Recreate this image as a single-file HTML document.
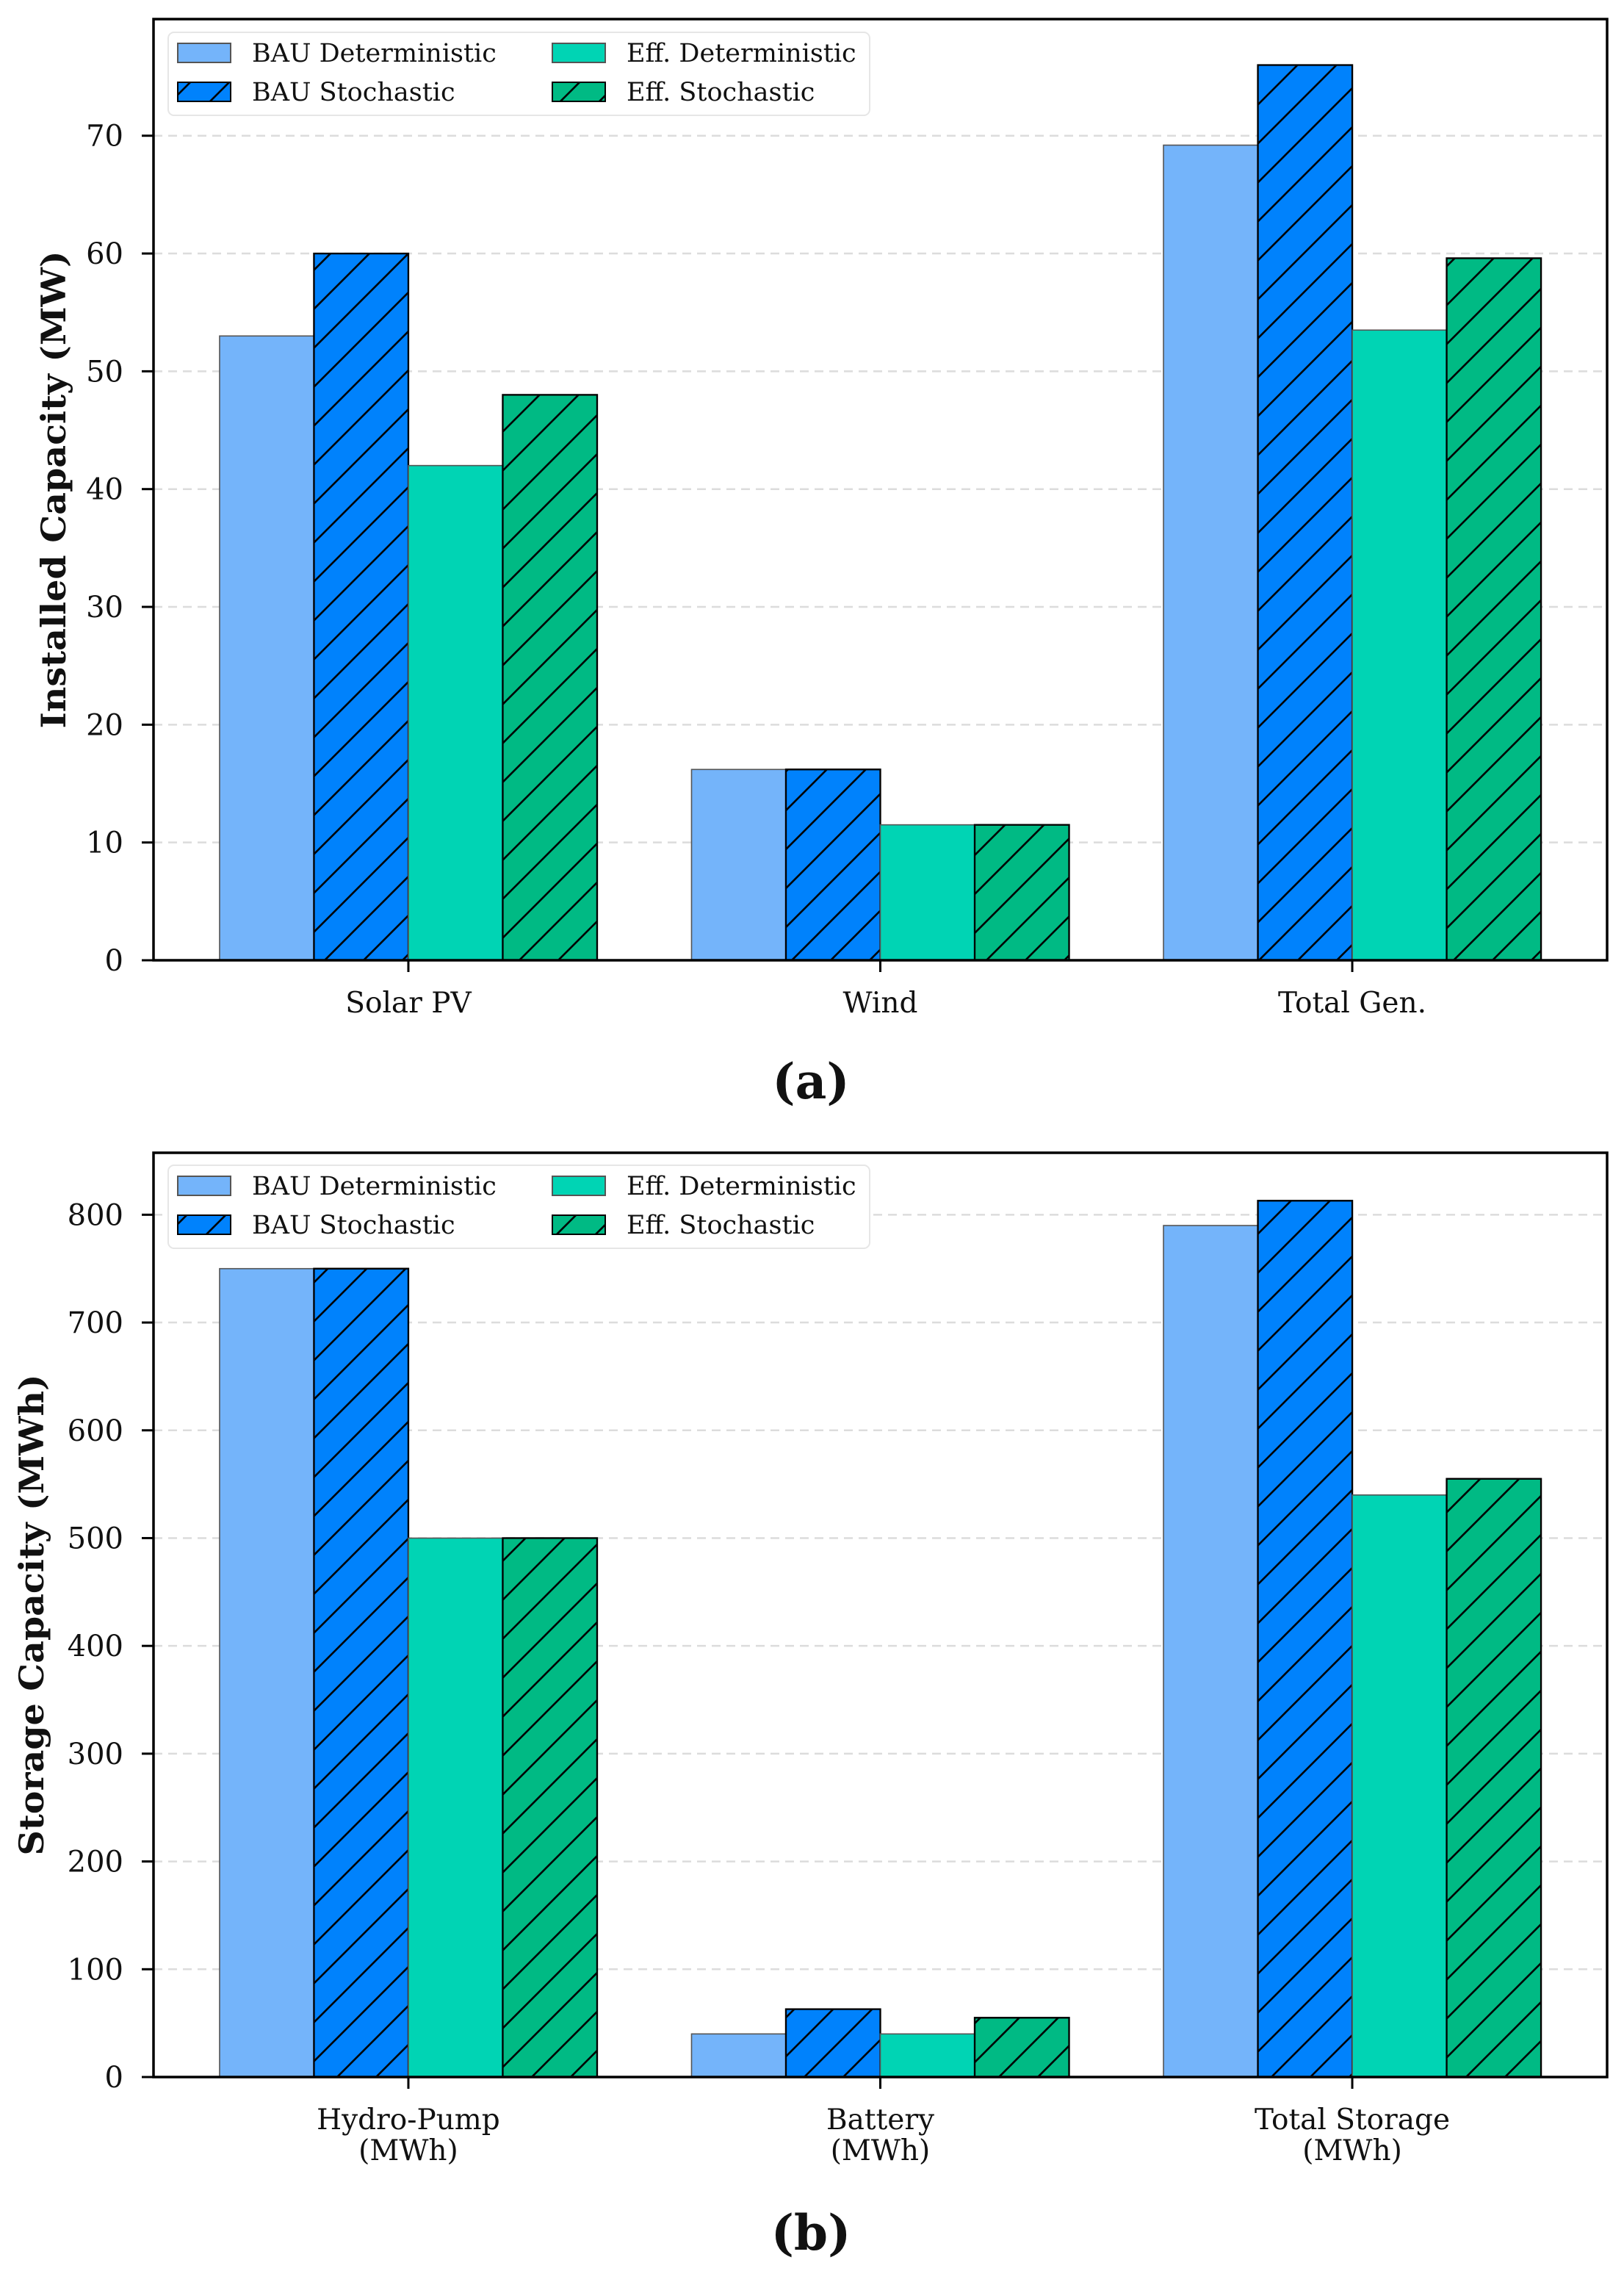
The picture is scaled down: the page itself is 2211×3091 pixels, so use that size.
<!DOCTYPE html>
<html><head><meta charset="utf-8"><style>
html,body{margin:0;padding:0;background:#fff;}
svg{display:block;}
text{font-family:"DejaVu Serif","Liberation Serif",serif;fill:#111;}
</style></head><body>
<svg id="fig" width="2211" height="3091" viewBox="0 0 2211 3091" xmlns="http://www.w3.org/2000/svg">
<defs>
<pattern id="hatch" patternUnits="userSpaceOnUse" width="53" height="53">
<path d="M-5,5 L5,-5 M0,53 L53,0 M48,58 L58,48" stroke="#000" stroke-width="2.6"/>
</pattern>
</defs>
</svg>
<script>
const series = ["BAU Deterministic","BAU Stochastic","Eff. Deterministic","Eff. Stochastic"];
const colors = ["#74b4fa","#0082fc","#00d4b4","#00ba84"];
const catsA = [["Solar PV"],["Wind"],["Total Gen."]];
const bauDetA = [53, 16.2, 69.2];
const bauStoA = [60, 16.2, 76];
const effDetA = [42, 11.5, 53.5];
const effStoA = [48, 11.5, 59.6];
const ticksA = [0,10,20,30,40,50,60,70];
const catsB = [["Hydro-Pump","(MWh)"],["Battery","(MWh)"],["Total Storage","(MWh)"]];
const bauDetB = [750, 40, 790];
const bauStoB = [750, 63, 813];
const effDetB = [500, 40, 540];
const effStoB = [500, 55, 555];
const ticksB = [0,100,200,300,400,500,600,700,800];

const svg = document.getElementById('fig');
const NS = "http://www.w3.org/2000/svg";
function mk(tag, attrs, parent){const e=document.createElementNS(NS,tag);for(const k in attrs)e.setAttribute(k,attrs[k]);(parent||svg).appendChild(e);return e;}

function panel(p){
  const g = mk('g',{});
  
  
  const L=209,R=2188,T=p.top,B=p.bottom;
  const xs = v => L + (v + 0.54) * (R - L) / 3.08;
  const ys = v => B - v * (B - T) / p.ymax;
  // grid
  p.ticks.forEach(t=>{
    if(t===0) return;
    const gl = mk('line',{x1:L,x2:R,y1:ys(t),y2:ys(t),stroke:'#dcdcdc','stroke-width':2.5,'stroke-dasharray':'12,8'},g);
    
    
  });
  // bars
  const data=[p.d0,p.d1,p.d2,p.d3];
  const bw = 0.2*(R-L)/3.08;
  data.forEach((arr,si)=>{
    arr.forEach((v,ci)=>{
      const x = xs(ci + (si-1.5)*0.2) - bw/2;
      const y = ys(v);
      const r = mk('rect',{x:x,y:y,width:bw,height:B-y,fill:colors[si],stroke:si%2?'#000':'#555','stroke-width':si%2?2.2:1.6},g);
      
      
      if(si%2){
        const h = mk('rect',{x:x,y:y,width:bw,height:B-y,fill:'url(#hatch)',stroke:'#000','stroke-width':2.2},g);
        
        
      }
    });
  });
  // frame
  const fr = mk('rect',{x:L,y:T,width:R-L,height:B-T,fill:'none',stroke:'#000','stroke-width':3.5},g);
  
  
  // y ticks
  p.ticks.forEach(t=>{
    mk('line',{x1:L-16,x2:L,y1:ys(t),y2:ys(t),stroke:'#000','stroke-width':3},g);
    const tx = mk('text',{x:168,y:ys(t)+14,'text-anchor':'end','font-size':40},g);
    tx.textContent = t;
    
    
  });
  // x ticks
  p.cats.forEach((c,ci)=>{
    const x = xs(ci);
    mk('line',{x1:x,x2:x,y1:B,y2:B+16,stroke:'#000','stroke-width':3},g);
    c.forEach((line,li)=>{
      const tx = mk('text',{x:x,y:B+71+li*42,'text-anchor':'middle','font-size':39},g);
      tx.textContent = line;
      
      
    });
  });
  // y title
  const cy=(T+B)/2;
  const yt = mk('text',{x:p.titleX,y:cy,'text-anchor':'middle','font-size':46,'font-weight':'bold',transform:`rotate(-90 ${p.titleX} ${cy})`,textLength:p.titleLen,lengthAdjust:'spacingAndGlyphs','dominant-baseline':'central'},g);
  yt.textContent = p.title;
  
  
  // legend
  const lg = mk('g',{},g);
  
  
  const ly=p.legTop;
  mk('rect',{x:229,y:ly,width:955,height:113,rx:8,fill:'#fff',stroke:'#e6e6e6','stroke-width':2},lg);
  series.forEach((s,si)=>{
    const col = si<2?0:1, row = si%2;
    const px = col? 752:242, py = ly+15+row*53;
    mk('rect',{x:px,y:py,width:72,height:26,fill:colors[si],stroke:si%2?'#000':'#555','stroke-width':2},lg);
    if(si%2) mk('rect',{x:px,y:py,width:72,height:26,fill:'url(#hatch)',stroke:'#000','stroke-width':2},lg);
    const tx = mk('text',{x:px+101,y:py+25,'font-size':35},lg);
    tx.textContent = s;
    
    
  });
  const lab = mk('text',{x:1104,y:p.labY,'text-anchor':'middle','font-size':66,'font-weight':'bold','font-family':'Liberation Serif, serif'},g);
  lab.textContent = p.label;
  
  
}
panel({name:'panel-a',top:26,bottom:1307,ymax:79.9,ticks:ticksA,cats:catsA,d0:bauDetA,d1:bauStoA,d2:effDetA,d3:effStoA,title:'Installed Capacity (MW)',titleX:73,titleLen:650,legTop:44,label:'(a)',labY:1495});
panel({name:'panel-b',top:1569,bottom:2827,ymax:857.5,ticks:ticksB,cats:catsB,d0:bauDetB,d1:bauStoB,d2:effDetB,d3:effStoB,title:'Storage Capacity (MWh)',titleX:43,titleLen:655,legTop:1586,label:'(b)',labY:3062});
</script>
</body></html>
